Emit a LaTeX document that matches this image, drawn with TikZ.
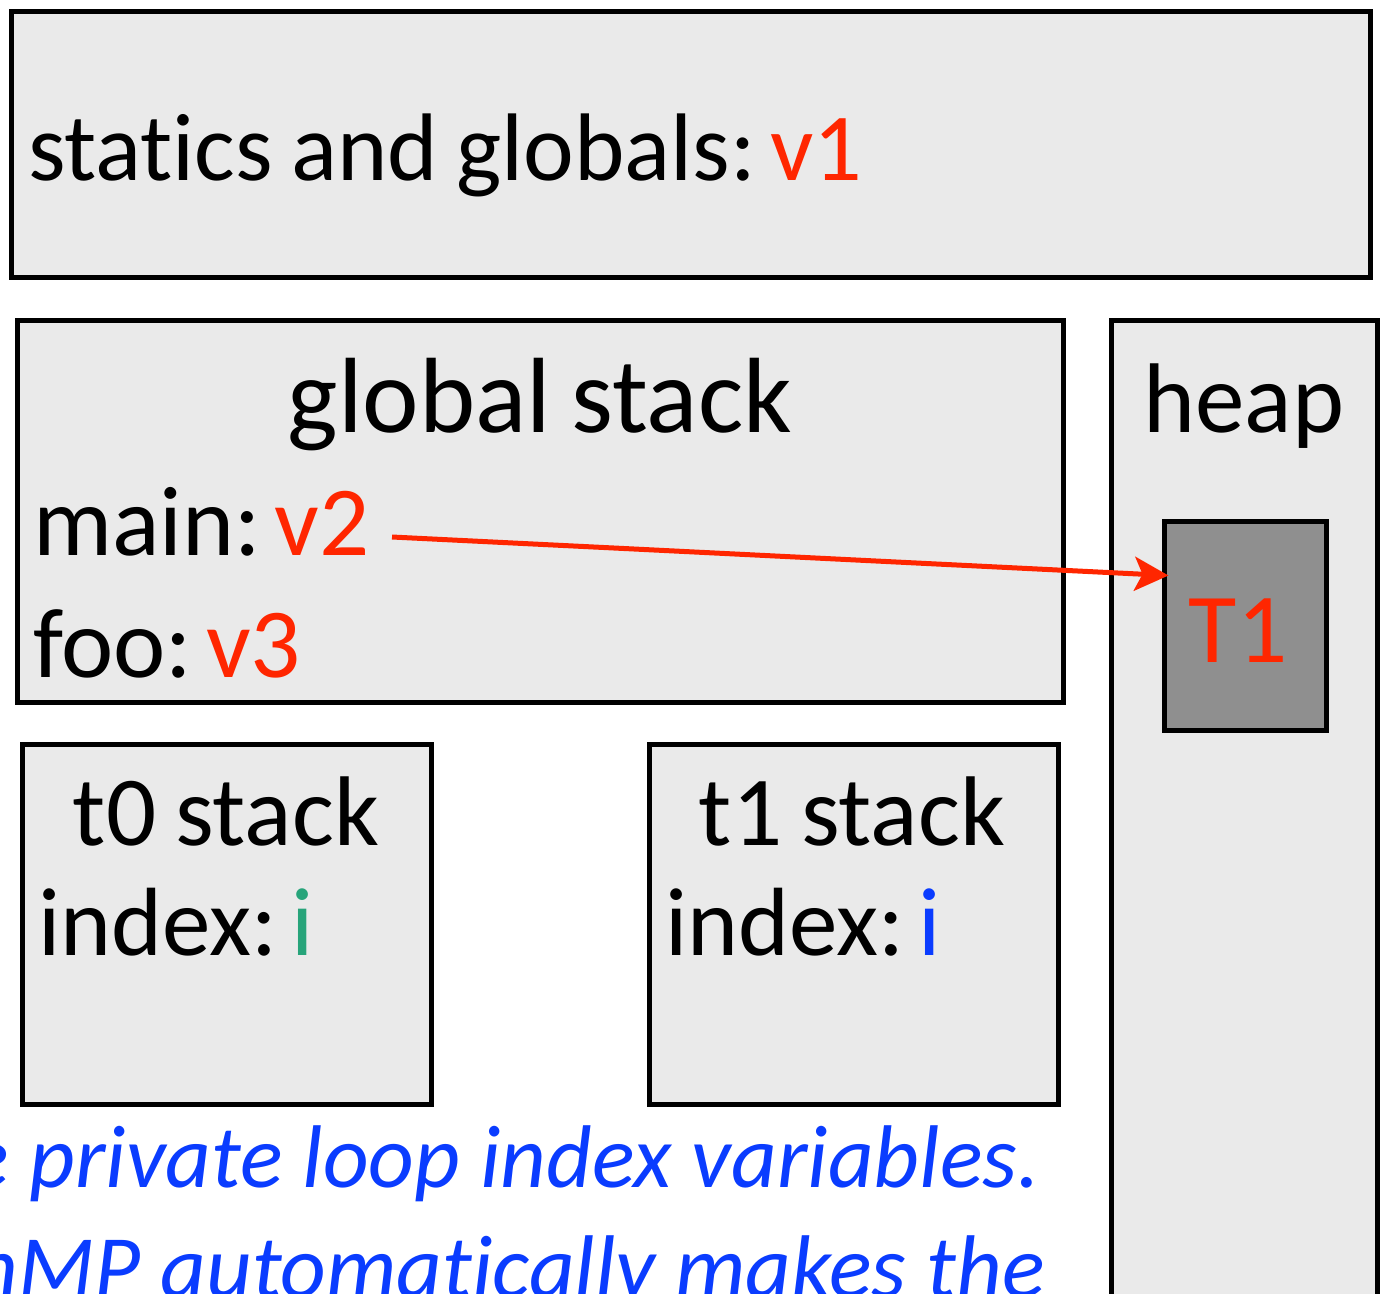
\documentclass[tikz,border=0pt]{standalone}
\usepackage{fontspec}
\setmainfont{Carlito}[WordSpace=0.85, Ligatures=NoCommon]
\newfontfamily\capfont{Carlito}[Ligatures=NoCommon]
\usetikzlibrary{arrows.meta,calc}
\definecolor{boxfill}{HTML}{EAEAEA}
\definecolor{objfill}{HTML}{8F8F8F}
\definecolor{varred}{HTML}{FF2600}
\definecolor{vargreen}{HTML}{27A47A}
\definecolor{varblue}{HTML}{0A3CFF}
% label followed by a coloured variable name, with a tight colon gap
\newcommand{\slot}[3]{#1:\kern14pt\textcolor{#2}{#3}}
\tikzset{
  region/.style={draw=black, line width=5pt, fill=boxfill},
  object/.style={draw=black, line width=5pt, fill=objfill},
  lbl/.style={inner sep=0pt, anchor=base west, font=\fontsize{99}{110}\selectfont},
  note/.style={inner sep=0pt, anchor=base east, text=varblue, font=\capfont\fontsize{89}{110}\selectfont\itshape},
  ref/.style={draw=varred, line width=5pt, -{Stealth[length=34pt,width=34pt,inset=8pt]}}
}
\begin{document}
\begin{tikzpicture}[x=1pt, y=-1pt]
  \useasboundingbox (0,0) rectangle (1389,1293);
  \clip (0,0) rectangle (1389,1293);
  % memory regions
  \draw[region] (11,11) rectangle (1370,277);
  \draw[region] (17,320) rectangle (1063,702);
  \draw[region] (1111,320) rectangle (1377,1310);
  \draw[region] (22,744) rectangle (431,1104);
  \draw[region] (649,744) rectangle (1058,1104);
  \node[object, minimum width=162pt, minimum height=209pt, inner sep=0pt] (tobj) at (1245,625.5) {};
  % labels
  \node[lbl, font=\fontsize{96}{110}\selectfont] (sg) at (28,180) {statics and globals:\kern14pt\textcolor{varred}{v1}};
  \node[lbl, anchor=base, font=\fontsize{107}{110}\selectfont] (gs) at (540,432) {global stack};
  \node[lbl] (mainv) at (33,555) {\slot{main}{varred}{v2}};
  \node[lbl] (foov) at (33,677) {\slot{foo}{varred}{v3}};
  \node[lbl, anchor=base] (hp) at (1244,432) {heap};
  \node[lbl, anchor=base, text=varred] (tname) at (1238,662) {T1};
  \node[lbl, anchor=base] (s0) at (226,845) {t0 stack};
  \node[lbl, font=\fontsize{97}{110}\selectfont] (i0) at (38,955) {\slot{index}{vargreen}{i}};
  \node[lbl, anchor=base] (s1) at (852,845) {t1 stack};
  \node[lbl, font=\fontsize{97}{110}\selectfont] (i1) at (665,955) {\slot{index}{varblue}{i}};
  % reference from the main frame to the heap object
  \coordinate (from) at ($(mainv.base east)+(22,-18)$);
  \draw[ref] (from) -- ($(tobj.west)+(7,-50)$);
  % caption text
  \node[note] (c1) at (1040,1187) {e private loop index variables.};
  \node[note] (c2) at (1045,1297) {nMP automatically makes the};
\end{tikzpicture}
\end{document}
